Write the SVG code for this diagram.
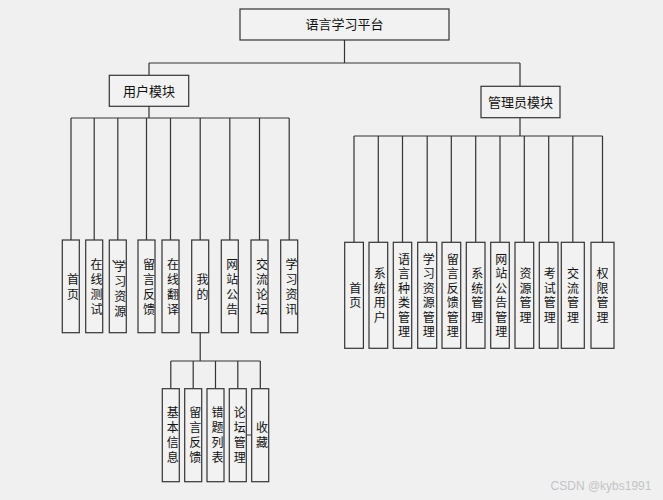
<svg xmlns="http://www.w3.org/2000/svg" width="663" height="500" viewBox="0 0 663 500">
<style>
.bx{fill:#f2f2f2;stroke:#333;stroke-width:1.2}
.t{font-family:"Noto Sans CJK SC","Noto Sans",sans-serif;fill:#111}
.h{font-size:13px;text-anchor:middle}
.v{font-size:12px;text-anchor:middle;writing-mode:vertical-rl;text-orientation:upright;letter-spacing:3px}
.w{font-size:12px;text-anchor:middle;writing-mode:vertical-rl;text-orientation:upright;letter-spacing:2.5px}
.c{fill:none;stroke:#333;stroke-width:1.2}
</style>
<rect width="663" height="500" fill="#f0f0f0"/>
<g id="connectors" class="c">
<path d="M344.5 40V63M149 63H520M149 63V75M520 63V86"/>
<path d="M149 106V118M71 118H289.2M71 118V240M94.2 118V240M117.8 118V240M146.5 118V240M170.5 118V240M200.2 118V240M229.8 118V240M259.5 118V240M289.2 118V240"/>
<path d="M200.2 333V361M170.8 361H260.3M170.8 361V388.7M193.2 361V388.7M215.5 361V388.7M237.8 361V388.7M260.3 361V388.7M246.3 435H251.7"/>
<path d="M520 118V136M354 136H602.5M354 136V242.3M378.3 136V242.3M402.5 136V242.3M427.2 136V242.3M451.3 136V242.3M475.7 136V242.3M500 136V242.3M524.3 136V242.3M548.7 136V242.3M572.8 136V242.3M602.5 136V242.3"/>
</g>
<g id="root"><rect class="bx" x="240" y="9" width="209" height="31"/><text class="t h" x="344.5" y="29.4">语言学习平台</text></g>
<g id="user"><rect class="bx" x="109.3" y="75.3" width="79.4" height="31"/><text class="t h" x="149" y="95.7">用户模块</text></g>
<g id="admin"><rect class="bx" x="481" y="86.3" width="79" height="31.4"/><text class="t h" x="520.5" y="107">管理员模块</text></g>

<g id="u1"><rect class="bx" x="62.3" y="240" width="17" height="92.7"/><text class="t v" x="73" y="288">首页</text></g>
<g id="u2"><rect class="bx" x="85.7" y="240" width="17" height="92.7"/><text class="t v" x="96.6" y="288">在线测试</text></g>
<g id="u3"><rect class="bx" x="109.3" y="240" width="17" height="92.7"/><text class="t h" style="font-size:12px" x="117.5" y="262.5">、</text><text class="t v" x="120.2" y="290.5">学习资源</text></g>
<g id="u4"><rect class="bx" x="138" y="240" width="17" height="92.7"/><text class="t v" x="148.9" y="288">留言反馈</text></g>
<g id="u5"><rect class="bx" x="162" y="240" width="17" height="92.7"/><text class="t v" x="172.9" y="288">在线翻译</text></g>
<g id="u6"><rect class="bx" x="191.7" y="240" width="17" height="92.7"/><text class="t v" x="202.5" y="288">我的</text></g>
<g id="u7"><rect class="bx" x="221.3" y="240" width="17" height="92.7"/><text class="t v" x="232.2" y="288">网站公告</text></g>
<g id="u8"><rect class="bx" x="251" y="240" width="17" height="92.7"/><text class="t v" x="261.9" y="288">交流论坛</text></g>
<g id="u9"><rect class="bx" x="280.7" y="240" width="17" height="92.7"/><text class="t v" x="291.6" y="288">学习资讯</text></g>

<g id="s1"><rect class="bx" x="162.3" y="388.7" width="17" height="93"/><text class="t v" x="172.8" y="436.7">基本信息</text></g>
<g id="s2"><rect class="bx" x="184.7" y="388.7" width="17" height="93"/><text class="t v" x="195.2" y="436.7">留言反馈</text></g>
<g id="s3"><rect class="bx" x="207" y="388.7" width="17" height="93"/><text class="t v" x="217.5" y="436.7">错题列表</text></g>
<g id="s4"><rect class="bx" x="229.3" y="388.7" width="17" height="93"/><text class="t v" x="239.8" y="436.7">论坛管理</text></g>
<g id="s5"><rect class="bx" x="251.7" y="388.7" width="17" height="93"/><text class="t v" x="262" y="436.7">收藏</text></g>

<g id="a1"><rect class="bx" x="344.7" y="242.3" width="18.7" height="106"/><text class="t w" x="355.2" y="296.6">首页</text></g>
<g id="a2"><rect class="bx" x="369" y="242.3" width="18.7" height="106"/><text class="t w" x="379.8" y="296.6">系统用户</text></g>
<g id="a3"><rect class="bx" x="393.3" y="242.3" width="18.4" height="106"/><text class="t w" x="404" y="296.6">语言种类管理</text></g>
<g id="a4"><rect class="bx" x="417.7" y="242.3" width="19" height="106"/><text class="t w" x="428.7" y="296.6">学习资源管理</text></g>
<g id="a5"><rect class="bx" x="442" y="242.3" width="18.7" height="106"/><text class="t w" x="452.8" y="296.6">留言反馈管理</text></g>
<g id="a6"><rect class="bx" x="466.3" y="242.3" width="18.7" height="106"/><text class="t w" x="477.2" y="296.6">系统管理</text></g>
<g id="a7"><rect class="bx" x="490.7" y="242.3" width="18.6" height="106"/><text class="t w" x="501.2" y="296.6">网站公告管理</text></g>
<g id="a8"><rect class="bx" x="515" y="242.3" width="18.7" height="106"/><text class="t w" x="525.6" y="296.6">资源管理</text></g>
<g id="a9"><rect class="bx" x="539.3" y="242.3" width="18.7" height="106"/><text class="t w" x="549.8" y="296.6">考试管理</text></g>
<g id="a10"><rect class="bx" x="561.3" y="242.3" width="23" height="106"/><text class="t w" x="573" y="296.6">交流管理</text></g>
<g id="a11"><rect class="bx" x="591" y="242.3" width="23" height="106"/><text class="t w" x="602.5" y="296.6">权限管理</text></g>

<text x="601" y="490" font-family="Liberation Sans, Arial, sans-serif" font-size="12" fill="#c4c4c4" text-anchor="middle">CSDN @kybs1991</text>
</svg>
